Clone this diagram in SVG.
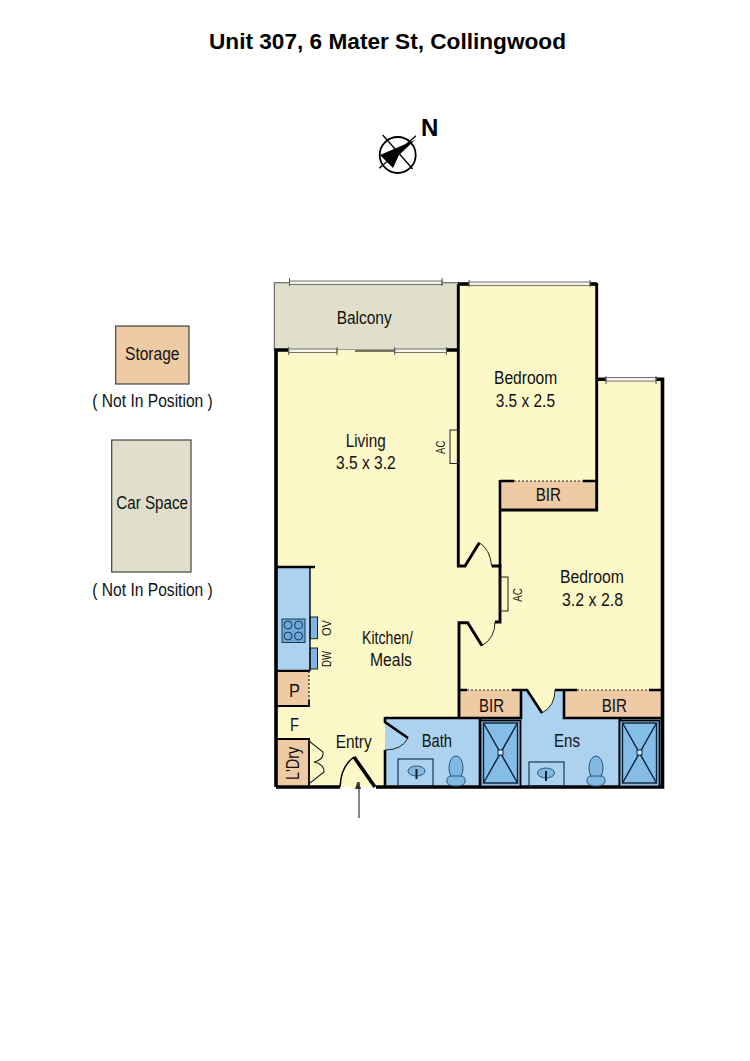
<svg xmlns="http://www.w3.org/2000/svg" width="750" height="1061" viewBox="0 0 750 1061">
<style>
text{font-family:"Liberation Sans",Arial,sans-serif;font-size:17.500px;fill:#111}
.title{font-weight:bold;font-size:22px;fill:#000}
.sm{font-size:12.500px}
.yellow{fill:#fdf8c8}.blue{fill:#acd2f0}.tan{fill:#eecaa5}.grey{fill:#e0dfcc}
.wall{fill:none;stroke:#000;stroke-width:3.6;stroke-linejoin:miter}
.inner{fill:none;stroke:#000;stroke-width:2.9}
.mid{fill:none;stroke:#000;stroke-width:2.6}
.thin{fill:none;stroke:#222;stroke-width:1}
.fix{fill:none;stroke:#0d2a45;stroke-width:1.1}
.dot{fill:none;stroke:#222;stroke-width:1.2;stroke-dasharray:2 2}
.box{stroke:#444;stroke-width:1.2}
.win{fill:#f4f4ec;stroke:#666;stroke-width:.9}
.tick{stroke:#555;stroke-width:1}
.bowl{fill:#82b9e2;stroke:#2a5578;stroke-width:1}
.scr{stroke:#0b2238;stroke-width:1.4;fill:none}
</style>
<defs>
<marker id="ah" markerWidth="7" markerHeight="11" refX="7" refY="4" orient="auto" markerUnits="userSpaceOnUse"><path d="M0 0L9 3L0 6Z" fill="#333"/></marker>
<g id="toilet"><ellipse cx="0" cy="-7" rx="7" ry="12" class="bowl"/><path d="M-9 7Q-10 1-4 1H4Q10 1 9 7Q8 11 0 11Q-8 11-9 7Z" class="bowl"/></g>
<g id="basin"><ellipse cx="0" cy="0" rx="8.500" ry="5" class="bowl"/><path d="M0-2V8" stroke="#123" stroke-width="2"/></g>
<g id="shower"><rect x="0" y="0" width="40" height="66" fill="#8fbfe4" stroke="#000" stroke-width="1.800"/><rect x="3" y="2.500" width="34" height="60" fill="#84bde8" stroke="#0b2238" stroke-width="1.400"/><path d="M3 2.500L37 62.500M37 2.500L3 62.500" class="scr"/><rect x="17.500" y="29.500" width="5" height="5" fill="#dceaf5" stroke="#0b2238"/></g>
</defs>

<text class="title" x="209" y="49" textLength="357" lengthAdjust="spacingAndGlyphs">Unit 307, 6 Mater St, Collingwood</text>

<g id="compass">
<circle cx="397.700" cy="155" r="18" fill="#fff" stroke="#000" stroke-width="1.800"/>
<path d="M382.700 135L412.700 169M416 135.700L379.300 168.300" stroke="#000" stroke-width="1.300"/>
<path d="M415 140L380 155L393 168L399 155Z" fill="#000"/>
<text x="421" y="136" style="font-weight:bold;font-size:24px;fill:#000">N</text>
</g>

<g id="storage">
<rect x="115.700" y="326" width="73.300" height="58" class="tan box"/>
<text x="125" y="360" textLength="54.500" lengthAdjust="spacingAndGlyphs">Storage</text>
<text x="92.300" y="406.700" textLength="120.500" lengthAdjust="spacingAndGlyphs">( Not In Position )</text>
</g>
<g id="car-space">
<rect x="111.700" y="440" width="79.300" height="132" class="grey box"/>
<text x="116.300" y="509" textLength="71.700" lengthAdjust="spacingAndGlyphs">Car Space</text>
<text x="92.300" y="595.700" textLength="120.500" lengthAdjust="spacingAndGlyphs">( Not In Position )</text>
</g>

<g id="fills">
<rect x="274.300" y="282.700" width="184" height="67.300" class="grey" stroke="#555" stroke-width="1"/>
<path d="M458 284H597V379H662V787H276V350H458Z" class="yellow"/>
<rect x="277" y="567" width="33" height="103.500" class="blue"/>
<rect x="277" y="671" width="32" height="35" class="tan"/>
<rect x="277" y="739" width="32" height="47" class="tan"/>
<rect x="500" y="481" width="96" height="28" class="tan"/>
<rect x="459" y="690" width="62" height="28" class="tan"/>
<rect x="564" y="690" width="98" height="28" class="tan"/>
<path d="M385 718H521V690H527L542 713Q555 706 555 690H564V718H662V787H385Z" class="blue"/>
<path d="M385 722L408 738Q402 750 385 750Z" class="blue"/>
<rect x="310" y="617" width="7.500" height="21.700" fill="#7db6e4" stroke="#222"/>
<rect x="310" y="648" width="7.500" height="21" fill="#7db6e4" stroke="#222"/>
</g>

<g id="walls">
<path d="M276 787V350H288M446 350H458" class="wall"/>
<path d="M469 284H458" class="wall"/>
<path d="M458.300 284V566H465L479.300 542.700" class="inner"/>
<path d="M589 284H597" class="wall"/>
<path d="M596.700 283V510H500" class="inner"/>
<path d="M606 379.300H596.700M650 379.300H662.500V787H376" class="wall"/>
<path d="M491.700 566H500V622H495" class="inner"/>
<path d="M500 566V480" class="mid"/>
<path d="M459 718V622.700H467.700L482 645.700" class="inner"/>
<path d="M276 787H340" class="wall"/>
<path d="M375 787L354 757" class="wall"/>
<path d="M500 481H514M583 481H596.700" class="mid"/>
<path d="M514 481H583" class="dot"/>
<path d="M458 690H467M512 690H527L542 713" class="mid"/>
<path d="M467 690H512" class="dot"/>
<path d="M555 690H564V718H662M564 690H577M649 690H662" class="mid"/>
<path d="M577 690H649" class="dot"/>
<path d="M458 718H521V690" class="mid"/>
<path d="M385 718H458M385 717V722L408 738M385 750V787" class="mid"/>
<path d="M276 567H315" class="mid"/>
<path d="M309 741L323 752Q324 760 314 762Q324 764 324 772L310 783" fill="none" stroke="#222" stroke-width="1.100"/>
<path d="M310 567V670.500H277" stroke="#111" stroke-width="1.500" fill="none"/>
<path d="M277 671H309M309 700V706H277M277 739H309V786" stroke="#000" stroke-width="1.800" fill="none"/>
<path d="M309 671V700" class="dot"/>
<path d="M480 718V787M620 718V787" class="mid"/>
</g>

<g id="door-arcs">
<path d="M479.300 542.700Q490 549 491.700 566" class="thin"/>
<path d="M495 622Q495 638 482 645.700" class="thin"/>
<path d="M542 713Q555 706 555 690" class="thin"/>
<path d="M408 738Q402 750 385 750" class="thin"/>
<path d="M340 787Q341 766 354 757" stroke="#000" stroke-width="1.500" fill="none"/>
</g>

<g id="windows">
<rect x="289.500" y="281" width="152.500" height="3.500" class="win"/>
<path d="M289.500 278V286M442 278V286" class="tick"/>
<rect x="288.700" y="349" width="48.300" height="3.500" class="win"/>
<path d="M288.700 347V355M337 347V355" class="tick"/>
<path d="M355 351H394" stroke="#77755a" stroke-width="1.800"/>
<rect x="394.700" y="349" width="51.800" height="3.500" class="win"/>
<path d="M394.700 347V355M446.500 347V355" class="tick"/>
<rect x="469" y="282" width="121" height="3.600" class="win"/>
<path d="M469 280V287M590 280V287" class="tick"/>
<rect x="606" y="377.500" width="50" height="3.600" class="win"/>
<path d="M606 376V384M656 376V384" class="tick"/>
</g>

<g id="fixtures">
<rect x="450" y="430" width="8" height="33.500" fill="none" stroke="#222" stroke-width="1"/>
<rect x="500" y="577" width="8" height="34" fill="none" stroke="#222" stroke-width="1"/>
<g id="hob"><rect x="282" y="619" width="23" height="23.500" fill="#6fa8d6" stroke="#143a5c"/>
<circle cx="288" cy="625" r="4" fill="none" stroke="#143a5c"/><circle cx="298.500" cy="625" r="4" fill="none" stroke="#143a5c"/><circle cx="288" cy="636" r="4" fill="none" stroke="#143a5c"/><circle cx="298.500" cy="636" r="4" fill="none" stroke="#143a5c"/></g>
<rect x="398" y="759" width="35" height="27" fill="none" class="fix"/>
<use href="#basin" x="416.500" y="771"/>
<use href="#toilet" x="456" y="775"/>
<use href="#shower" x="480.500" y="720.500"/>
<rect x="529" y="762" width="35" height="24" fill="none" class="fix"/>
<use href="#basin" x="546" y="773"/>
<use href="#toilet" x="596" y="775"/>
<use href="#shower" x="619.500" y="720.500"/>
</g>

<g id="entry-arrow"><path d="M359 818V782" stroke="#333" stroke-width="1.200" marker-end="url(#ah)"/></g>

<g id="labels">
<text x="336.700" y="324" textLength="55" lengthAdjust="spacingAndGlyphs">Balcony</text>
<text x="345.700" y="447.300" textLength="40" lengthAdjust="spacingAndGlyphs">Living</text>
<text x="336" y="469" textLength="59.700" lengthAdjust="spacingAndGlyphs">3.5 x 3.2</text>
<text x="494" y="384" textLength="63.300" lengthAdjust="spacingAndGlyphs">Bedroom</text>
<text x="495.700" y="406.700" textLength="59.300" lengthAdjust="spacingAndGlyphs">3.5 x 2.5</text>
<text x="535.700" y="501" textLength="25.300" lengthAdjust="spacingAndGlyphs">BIR</text>
<text x="560" y="583" textLength="64" lengthAdjust="spacingAndGlyphs">Bedroom</text>
<text x="562" y="606" textLength="61" lengthAdjust="spacingAndGlyphs">3.2 x 2.8</text>
<text x="362" y="644" textLength="51" lengthAdjust="spacingAndGlyphs">Kitchen/</text>
<text x="370" y="666" textLength="42" lengthAdjust="spacingAndGlyphs">Meals</text>
<text x="335.700" y="747.700" textLength="36" lengthAdjust="spacingAndGlyphs">Entry</text>
<text x="289" y="697" textLength="11" lengthAdjust="spacingAndGlyphs">P</text>
<text x="290" y="730.700" textLength="9" lengthAdjust="spacingAndGlyphs">F</text>
<text transform="translate(298.500 780) rotate(-90)" textLength="33.300" lengthAdjust="spacingAndGlyphs">L'Dry</text>
<text class="sm" transform="translate(330.700 636) rotate(-90)" textLength="16" lengthAdjust="spacingAndGlyphs">OV</text>
<text class="sm" transform="translate(330.700 667) rotate(-90)" textLength="16" lengthAdjust="spacingAndGlyphs">DW</text>
<text class="sm" transform="translate(445 454) rotate(-90)" textLength="13.300" lengthAdjust="spacingAndGlyphs">AC</text>
<text class="sm" transform="translate(521.700 601.700) rotate(-90)" textLength="13.700" lengthAdjust="spacingAndGlyphs">AC</text>
<text x="421.700" y="746.700" textLength="30.300" lengthAdjust="spacingAndGlyphs">Bath</text>
<text x="479" y="711.700" textLength="25" lengthAdjust="spacingAndGlyphs">BIR</text>
<text x="554" y="746.700" textLength="26" lengthAdjust="spacingAndGlyphs">Ens</text>
<text x="601.700" y="711.700" textLength="25.300" lengthAdjust="spacingAndGlyphs">BIR</text>
</g>
</svg>
